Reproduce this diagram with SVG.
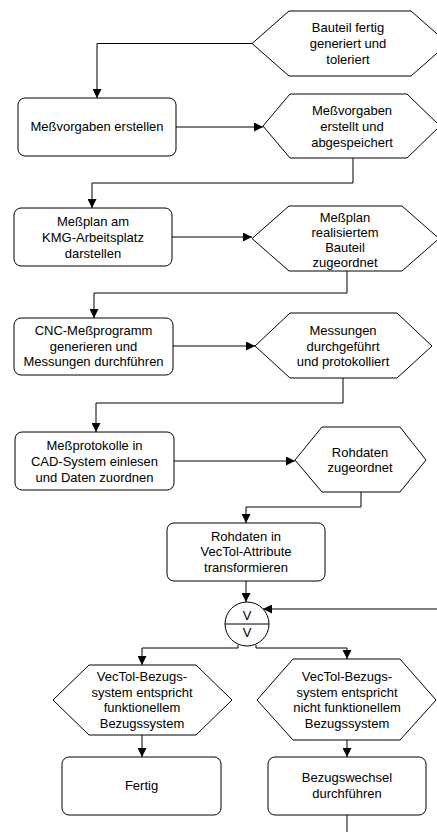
<svg xmlns="http://www.w3.org/2000/svg" width="437" height="832" viewBox="0 0 437 832">
<style>
.n{fill:#fff;stroke:#000;stroke-width:1}
.t{font-family:"Liberation Sans",Arial,sans-serif;font-size:13px;fill:#000;text-anchor:middle}
.c{fill:none;stroke:#000;stroke-width:1}
</style>
<defs>
<marker id="arr" viewBox="0 0 10 10" refX="10" refY="5" markerWidth="10" markerHeight="9" orient="auto" markerUnits="userSpaceOnUse">
<path d="M0,0 L10,5 L0,10 z" fill="#000"/>
</marker>
</defs>
<rect width="437" height="832" fill="#fff"/>
<g id="connectors">
<path class="c" d="M252,43.5 H97 V98" marker-end="url(#arr)"/>
<path class="c" d="M176,127 H263" marker-end="url(#arr)"/>
<path class="c" d="M353,158 V183 H92 V208" marker-end="url(#arr)"/>
<path class="c" d="M172,237 H252" marker-end="url(#arr)"/>
<path class="c" d="M347,271 V293 H94 V318" marker-end="url(#arr)"/>
<path class="c" d="M173,346 H255" marker-end="url(#arr)"/>
<path class="c" d="M343,378 V403 H96 V432" marker-end="url(#arr)"/>
<path class="c" d="M174,461 H295" marker-end="url(#arr)"/>
<path class="c" d="M361,492 V507 H246 V523" marker-end="url(#arr)"/>
<path class="c" d="M246,581 V602" marker-end="url(#arr)"/>
<path class="c" d="M437,609 H263" marker-end="url(#arr)"/>
<path class="c" d="M238,645 V648 H142 V665" marker-end="url(#arr)"/>
<path class="c" d="M256,645 V648 H347 V659" marker-end="url(#arr)"/>
<path class="c" d="M142,735 V757" marker-end="url(#arr)"/>
<path class="c" d="M347,740 V757" marker-end="url(#arr)"/>
<path class="c" d="M347,815 V832"/>
</g>
<g id="e1">
<polygon class="n" points="252,43.5 289,11 411,11 448,43.5 411,76 289,76"/>
<text class="t" x="348" y="32">Bauteil fertig</text>
<text class="t" x="348" y="48">generiert und</text>
<text class="t" x="348" y="64">toleriert</text>
</g>
<g id="f1">
<rect class="n" x="18" y="98" width="158" height="58" rx="7"/>
<text class="t" x="97" y="131">Meßvorgaben erstellen</text>
</g>
<g id="e2">
<polygon class="n" points="263,126 290,94 407,94 440,126 407,158 290,158"/>
<text class="t" x="352" y="115">Meßvorgaben</text>
<text class="t" x="352" y="131">erstellt und</text>
<text class="t" x="352" y="147">abgespeichert</text>
</g>
<g id="f2">
<rect class="n" x="14" y="208" width="158" height="58" rx="7"/>
<text class="t" x="93" y="226">Meßplan am</text>
<text class="t" x="93" y="242">KMG-Arbeitsplatz</text>
<text class="t" x="93" y="258">darstellen</text>
</g>
<g id="e3">
<polygon class="n" points="252,238.5 289,206 402,206 439,238.5 402,271 289,271"/>
<text class="t" x="345" y="222">Meßplan</text>
<text class="t" x="345" y="237">realisiertem</text>
<text class="t" x="345" y="252">Bauteil</text>
<text class="t" x="345" y="267">zugeordnet</text>
</g>
<g id="f3">
<rect class="n" x="14" y="318" width="159" height="57" rx="7"/>
<text class="t" x="93.5" y="335">CNC-Meßprogramm</text>
<text class="t" x="93.5" y="351">generieren und</text>
<text class="t" x="93.5" y="366">Messungen durchführen</text>
</g>
<g id="e4">
<polygon class="n" points="255,346 290,313 397,313 432,346 397,378 290,378"/>
<text class="t" x="343" y="335">Messungen</text>
<text class="t" x="343" y="351">durchgeführt</text>
<text class="t" x="343" y="366">und protokolliert</text>
</g>
<g id="f4">
<rect class="n" x="15" y="432" width="159" height="58" rx="7"/>
<text class="t" x="94.5" y="450">Meßprotokolle in</text>
<text class="t" x="94.5" y="466">CAD-System einlesen</text>
<text class="t" x="94.5" y="482">und Daten zuordnen</text>
</g>
<g id="e5">
<polygon class="n" points="295,460 322,427 400,427 426,460 400,492 322,492"/>
<text class="t" x="360" y="457">Rohdaten</text>
<text class="t" x="360" y="472">zugeordnet</text>
</g>
<g id="f5">
<rect class="n" x="167" y="523" width="158" height="58" rx="7"/>
<text class="t" x="246" y="541">Rohdaten in</text>
<text class="t" x="246" y="556">VecTol-Attribute</text>
<text class="t" x="246" y="572">transformieren</text>
</g>
<g id="xor">
<circle class="n" cx="247" cy="624" r="22"/>
<line class="c" x1="225" y1="624" x2="269" y2="624"/>
<text class="t" x="247" y="620">V</text>
<text class="t" x="247" y="637">V</text>
</g>
<g id="e6">
<polygon class="n" points="53,700 89,665 196,665 232,700 196,735 89,735"/>
<text class="t" x="142" y="681">VecTol-Bezugs-</text>
<text class="t" x="142" y="697">system entspricht</text>
<text class="t" x="142" y="712">funktionellem</text>
<text class="t" x="142" y="728">Bezugssystem</text>
</g>
<g id="e7">
<polygon class="n" points="257,700 293,659 400,659 436,700 400,740 293,740"/>
<text class="t" x="347" y="681">VecTol-Bezugs-</text>
<text class="t" x="347" y="697">system entspricht</text>
<text class="t" x="347" y="712">nicht funktionellem</text>
<text class="t" x="347" y="728">Bezugssystem</text>
</g>
<g id="f6">
<rect class="n" x="62" y="757" width="159" height="58" rx="7"/>
<text class="t" x="141.5" y="790">Fertig</text>
</g>
<g id="f7">
<rect class="n" x="268" y="757" width="158" height="58" rx="7"/>
<text class="t" x="347" y="782">Bezugswechsel</text>
<text class="t" x="347" y="798">durchführen</text>
</g>
</svg>
